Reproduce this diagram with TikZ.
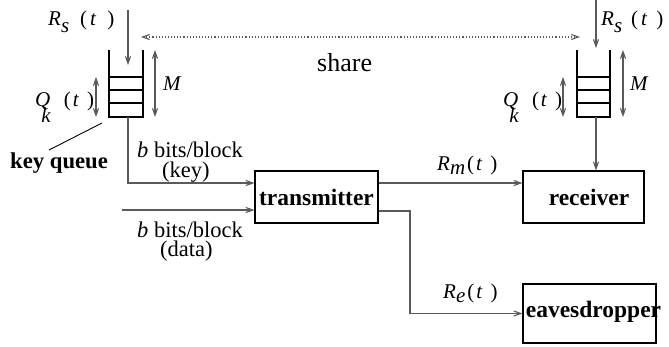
\documentclass[tikz,border=0pt]{standalone}
\usepackage{fontspec}
\setmainfont{Liberation Serif}
\usetikzlibrary{arrows.meta}
\definecolor{wire}{HTML}{5A5A5A}
% italic variable with a lowered italic index
\newcommand\varsub[3]{\textit{#1}\raisebox{-#3}{\textit{#2}}}
% "(t )" argument with adjustable gaps
\newcommand\targ[2]{(\hspace{#1}\textit{t}\hspace{#2})}
% Q with its index set underneath
\newcommand\qk{\textit{Q}\hspace{-9pt}\raisebox{-16pt}{\textit{k}}}

\begin{document}
\begin{tikzpicture}[x=1pt,y=-1pt,
  wire/.style={draw=wire,line width=1.1pt},
  arr/.style={wire,-{Straight Barb[length=7pt,width=5pt]}},
  darr/.style={wire,{Straight Barb[length=7pt,width=5pt]}-{Straight Barb[length=7pt,width=5pt]}},
  dotarr/.style={wire,dotted,{Straight Barb[length=7pt,width=5pt]}-{Straight Barb[length=7pt,width=5pt]}},
  box/.style={draw=black,line width=1.1pt,inner sep=0pt},
  txt/.style={font=\fontsize{22.5}{24}\selectfont,inner sep=0pt,anchor=base west},
  btxt/.style={font=\fontsize{23.5}{25}\selectfont\bfseries,inner sep=0pt},
  mtxt/.style={font=\fontsize{21}{22}\selectfont,inner sep=0pt,anchor=base west},
  qwall/.style={draw=black,line width=1.1pt}]
\useasboundingbox (0,0) rectangle (669,346);

% ---- key queues
\begin{scope}[shift={(109,0)}]
  \draw[qwall] (0,50) -- (0,117) -- (34,117) -- (34,50);
  \foreach \y in {77,90,103} \draw[qwall] (0,\y) -- (34,\y);
\end{scope}
\begin{scope}[shift={(577,0)}]
  \draw[qwall] (0,50) -- (0,117) -- (33,117) -- (33,50);
  \foreach \y in {77,90,103} \draw[qwall] (0,\y) -- (33,\y);
\end{scope}

\coordinate (lrs) at (128,10);
\coordinate (lq-in) at (128,65);
\coordinate (lq-out) at (128,117);
\coordinate (rrs) at (596,0);
\coordinate (rq-in) at (596,48);
\coordinate (rq-out) at (596,117);

% ---- blocks
\node[box,minimum width=123pt,minimum height=52pt] (tx) at (316.5,197) {};
\node[btxt] (txt-tx) at (316.5,197) {transmitter};
\node[box,minimum width=121pt,minimum height=52pt] (rx) at (583.5,197) {};
\node[btxt] (txt-rx) at (589,197) {receiver};
\node[box,minimum width=133pt,minimum height=59pt] (eve) at (589.5,313.5) {};
\node[btxt] (txt-eve) at (593.5,312) {eavesdropper};

% ---- queue arrows
\draw[arr] (lrs) -- (lq-in);
\draw[arr] (rrs) -- (rq-in);
\coordinate (lm-a) at (155,50);  \coordinate (lm-b) at (155,117);
\coordinate (rm-a) at (623,50);  \coordinate (rm-b) at (623,117);
\coordinate (lqk-a) at (96,77);  \coordinate (lqk-b) at (96,117);
\coordinate (rqk-a) at (563,77); \coordinate (rqk-b) at (563,117);
\draw[darr] (lm-a) -- (lm-b);
\draw[darr] (rm-a) -- (rm-b);
\draw[darr] (lqk-a) -- (lqk-b);
\draw[darr] (rqk-a) -- (rqk-b);

% shared key material
\coordinate (sh-a) at (141,37);
\coordinate (sh-b) at (580,37);
\draw[dotarr] (sh-a) -- (sh-b);
\node[font=\fontsize{26}{28}\selectfont,inner sep=0pt,anchor=base west] (share) at (317,71) {share};

% pointer to the key queue
\coordinate (kq-a) at (102,123);
\coordinate (kq-b) at (49,150);
\draw[line width=0.9pt] (kq-a) -- (kq-b);
\node[anchor=base west,inner sep=0pt,font=\fontsize{22.7}{24}\selectfont\bfseries] (kq) at (10,168) {key queue};

% ---- links
\draw[arr] (lq-out) |- ([yshift=14pt]tx.west);
\coordinate (data-in) at (122,210);
\draw[arr] (data-in) -- (data-in -| tx.west);
\draw[arr] ([yshift=14pt]tx.east) -- ([yshift=14pt]rx.west);
\coordinate (tap) at (410,211);
\draw[arr] (tx.east |- tap) -- (tap) |- (eve.west);
\draw[arr] (rq-out) -- (rq-out |- rx.north);

% ---- labels
\node[mtxt] (l-rs) at (48,25) {\varsub{R}{s}{7pt}\hspace{11pt}\targ{3pt}{11pt}};
\node[mtxt] (r-rs) at (601,25) {\varsub{R}{s}{7pt}\hspace{9pt}\targ{3pt}{9pt}};
\node[mtxt] (l-m) at (163,90) {\textit{M}};
\node[mtxt] (r-m) at (630,90) {\textit{M}};
\node[mtxt] (l-qk) at (35,106) {\qk\hspace{13pt}\targ{2pt}{8pt}};
\node[mtxt] (r-qk) at (503,106) {\qk\hspace{13pt}\targ{2pt}{8pt}};
\node[mtxt] (rm) at (437,170) {\varsub{R}{m}{4pt}\hspace{2pt}\targ{2pt}{8pt}};
\node[mtxt] (re) at (443,298) {\varsub{R}{e}{4pt}\hspace{2pt}\targ{2pt}{8pt}};
\node[txt] (kb) at (137,157) {\textit{b} bits/block};
\node[txt] (kk) at (162,177) {(key)};
\node[txt] (db) at (137,237) {\textit{b} bits/block};
\node[txt] (dd) at (160,256) {(data)};
\end{tikzpicture}
\end{document}
